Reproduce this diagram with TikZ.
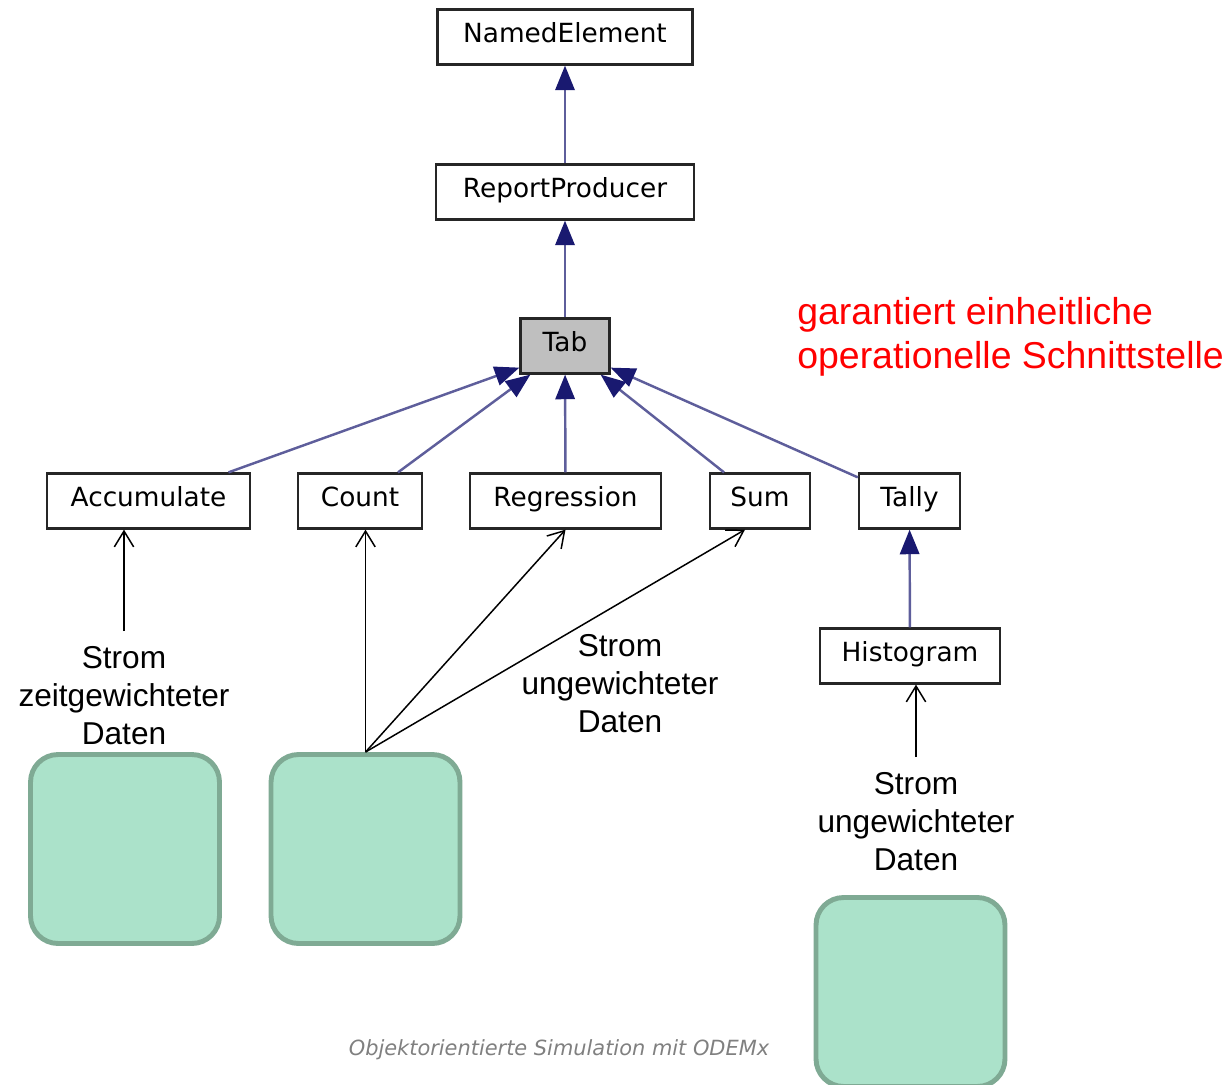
\documentclass[tikz,border=0pt]{standalone}
\usepackage{fontspec}
\setmainfont{Liberation Sans}
\newfontfamily\classfont{DejaVu Sans}
\newfontfamily\footfont{DejaVu Sans}
\usepackage{tikz}
\usetikzlibrary{arrows.meta, positioning, calc}
\definecolor{edgeblue}{RGB}{25,25,112}
\definecolor{boxgreen}{RGB}{171,226,202}
\definecolor{boxedge}{RGB}{127,170,148}

\begin{document}
\begin{tikzpicture}[x=0.02cm, y=-0.02cm,
    cls/.style={draw=black!85, line width=1.3pt, minimum height=1.1cm, inner sep=0pt,
        text height=11pt, text depth=4.5pt, font=\classfont\fontsize{15}{18}\selectfont},
    inherit/.style={draw=edgeblue!70!white, line width=1.4pt,
        -{Triangle[length=14pt, width=11pt, color=edgeblue]}},
    feed/.style={draw=black, line width=0.85pt, -{Straight Barb[length=9pt, width=11pt]}},
    src/.style={draw=boxedge, fill=boxgreen, line width=2.8pt, rounded corners=0.55cm,
        minimum width=3.78cm, minimum height=3.78cm},
    note/.style={align=center, anchor=north, inner ysep=0.3cm,
        font=\fontsize{18}{21.6}\selectfont}]
    \useasboundingbox (0,0) rectangle (1228,1085);

    % Class hierarchy
    \node[cls, minimum width=5.1cm] (named) at (565,37) {NamedElement};
    \node[cls, minimum width=5.16cm] (report) at (565,192) {ReportProducer};
    \node[cls, minimum width=1.78cm, fill=gray!50] (tab) at (565,346) {Tab};
    \node[cls, minimum width=4.06cm] (acc) at (148.5,501) {Accumulate};
    \node[cls, minimum width=2.48cm] (count) at (360,501) {Count};
    \node[cls, minimum width=3.82cm] (reg) at (565.5,501) {Regression};
    \node[cls, minimum width=2.0cm] (sum) at (760,501) {Sum};
    \node[cls, minimum width=2.02cm] (tally) at (909.5,501) {Tally};
    \node[cls, minimum width=3.6cm] (hist) at (910,656) {Histogram};

    \draw[inherit] (report) -- (named);
    \draw[inherit] (tab) -- (report);
    \draw[inherit] ([xshift=1.6cm]acc.north) -- ([yshift=0.14cm]tab.south west);
    \draw[inherit] ([xshift=0.76cm]count.north) -- ([xshift=0.22cm]tab.south west);
    \draw[inherit] (reg) -- (tab);
    \draw[inherit] ([xshift=-0.72cm]sum.north) -- ([xshift=-0.2cm]tab.south east);
    \draw[inherit] ([yshift=-0.1cm]tally.north west) -- ([yshift=0.14cm]tab.south east);
    \draw[inherit] (hist) -- (tally);

    % Note
    \node[red, align=left, anchor=north west, inner sep=0pt, font=\fontsize{21.3}{25}\selectfont]
        (note) at (797,297) {garantiert einheitliche\\operationelle Schnittstelle};

    % Data sources
    \node[src] (src1) at (125,849) {};
    \node[src] (src2) at (365.5,849) {};
    \node[src] (src3) at (910.5,992) {};

    \node[note] (lab1) at (124,631) {Strom\\zeitgewichteter\\Daten};
    \node[note] (lab2) at (620,619) {Strom\\ungewichteter\\Daten};
    \node[note] (lab3) at (916,757) {Strom\\ungewichteter\\Daten};

    \draw[feed] (lab1.north) -- (lab1.north |- acc.south);
    \draw[feed] (src2.north) -- (src2.north |- count.south);
    \draw[feed] (src2.north) -- (reg.south);
    \draw[feed] (src2.north) -- ([xshift=-0.3cm]sum.south);
    \draw[feed] (lab3.north) -- (lab3.north |- hist.south);

    % Footer
    \node[gray, font=\footfont\itshape\fontsize{11.9}{14}\selectfont] (foot) at (559,1050)
        {Objektorientierte Simulation mit ODEMx};
\end{tikzpicture}
\end{document}
